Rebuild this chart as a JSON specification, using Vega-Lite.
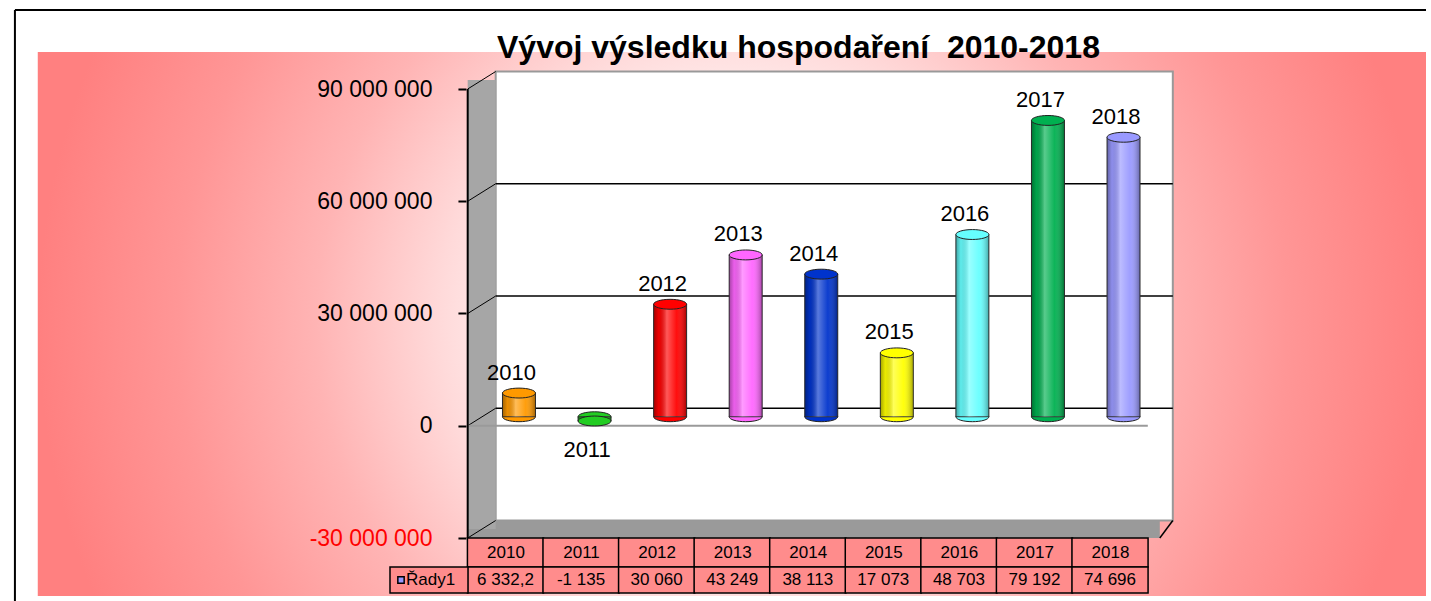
{
  "$schema": "https://vega.github.io/schema/vega-lite/v6.json",
  "width": 1431,
  "height": 601,
  "autosize": "none",
  "padding": 0,
  "background": "white",
  "config": {"view": {"stroke": null}, "font": "Liberation Sans"},
  "title": {"text": "Vývoj výsledku hospodaření \u00a02010-2018", "fontSize": 32, "fontWeight": "bold", "font": "Liberation Sans", "anchor": "start", "frame": "group", "dx": 497, "offset": -65, "color": "black"},
  "data": {"values": [
    {"rok": 2010, "hodnota": 6332200, "tab": "6 332,2"},
    {"rok": 2011, "hodnota": -1135000, "tab": "-1 135"},
    {"rok": 2012, "hodnota": 30060000, "tab": "30 060"},
    {"rok": 2013, "hodnota": 43249000, "tab": "43 249"},
    {"rok": 2014, "hodnota": 38113000, "tab": "38 113"},
    {"rok": 2015, "hodnota": 17073000, "tab": "17 073"},
    {"rok": 2016, "hodnota": 48703000, "tab": "48 703"},
    {"rok": 2017, "hodnota": 79192000, "tab": "79 192"},
    {"rok": 2018, "hodnota": 74696000, "tab": "74 696"}
  ]},
  "layer": [
    {
      "data": {"values": [{}]},
      "mark": {"type": "rect", "fill": {"gradient": "radial", "x1": 0.5, "y1": 0.5, "r1": 0, "x2": 0.5, "y2": 0.5, "r2": 0.5,
        "stops": [{"offset": 0, "color": "#ffffff"}, {"offset": 0.3, "color": "#fff0f0"}, {"offset": 0.42, "color": "#ffdada"}, {"offset": 0.6, "color": "#ffb4b4"}, {"offset": 0.8, "color": "#ff9696"}, {"offset": 1, "color": "#ff8080"}]}},
      "encoding": {
        "x": {"datum": 2003.81077, "type": "quantitative",
          "scale": {"domain": [2003.37714, 2022.18134], "nice": false, "zero": false},
          "axis": {"title": null, "orient": "bottom", "offset": -63, "zindex": 2, "values": [2010, 2011, 2012, 2013, 2014, 2015, 2016, 2017, 2018], "format": "d", "domain": false, "ticks": false, "tickSize": 0, "grid": false, "labelFontSize": 17, "labelFont": "Liberation Sans", "labelPadding": 6, "labelFlush": false, "labelOverlap": false, "labelColor": "black"}},
        "x2": {"datum": 2022.18134},
        "y": {"datum": 99888642, "type": "quantitative",
          "scale": {"domain": [-46837417, 113786191], "nice": false, "zero": false},
          "axis": {"title": null, "orient": "left", "offset": -465.95, "zindex": 2, "values": [-30000000, 0, 30000000, 60000000, 90000000], "domain": false, "grid": false, "ticks": true, "tickSize": 8, "tickWidth": 2, "tickColor": "black", "labelFontSize": 23, "labelFont": "Liberation Sans", "labelPadding": 26, "labelOverlap": false, "labelFlush": false, "labelBaseline": "middle",
            "labelColor": {"condition": {"test": "datum.value < 0", "value": "#ff0000"}, "value": "black"},
            "labelExpr": "replace(replace(format(datum.value, ','), regexp(',', 'g'), ' '), '−', '-')"}},
        "y2": {"datum": -45501114}
      }
    },
    {
      "data": {"values": [{}]},
      "mark": {"type": "rule", "color": "black", "strokeWidth": 2},
      "encoding": {"x": {"datum": 2003.50854}, "x2": {"datum": 2022.18134}, "y": {"datum": 111113586}}
    },
    {
      "data": {"values": [{}]},
      "mark": {"type": "rule", "color": "black", "strokeWidth": 2},
      "encoding": {"x": {"datum": 2003.50854}, "y": {"datum": 111113586}, "y2": {"datum": -46837417}}
    },
    {
      "data": {"values": [{}]},
      "mark": {"type": "rect", "fill": "white", "stroke": "#999999", "strokeWidth": 2, "xOffset": 28, "x2Offset": 25, "yOffset": -17.5, "y2Offset": -17.5},
      "encoding": {"x": {"datum": 2009.5}, "x2": {"datum": 2018.5}, "y": {"datum": 90000000}, "y2": {"datum": -30000000}}
    },
    {
      "data": {"values": [{}]},
      "mark": {"type": "rect", "fill": "#9a9a9a", "x2Offset": 12, "yOffset": -17.5},
      "encoding": {"x": {"datum": 2009.5}, "x2": {"datum": 2018.5}, "y": {"datum": -30000000}, "y2": {"datum": -30000000}}
    },
    {
      "data": {"values": [{}]},
      "mark": {"type": "rect", "fill": "#a6a6a6", "x2Offset": 28, "yOffset": -9, "y2Offset": -9},
      "encoding": {"x": {"datum": 2009.5}, "x2": {"datum": 2009.5}, "y": {"datum": 90000000}, "y2": {"datum": -30000000}}
    },
    {
      "data": {"values": [{}]},
      "mark": {"type": "rule", "color": "black", "strokeWidth": 1.5, "xOffset": 12, "x2Offset": 25, "y2Offset": -17.5},
      "encoding": {"x": {"datum": 2018.5}, "x2": {"datum": 2018.5}, "y": {"datum": -30000000}, "y2": {"datum": -30000000}}
    },
    {
      "data": {"values": [{"v": -30000000}, {"v": 0}, {"v": 30000000}, {"v": 60000000}, {"v": 90000000}]},
      "mark": {"type": "rule", "color": "black", "strokeWidth": 1, "x2Offset": 28, "y2Offset": -17.5},
      "encoding": {"x": {"datum": 2009.5}, "x2": {"datum": 2009.5}, "y": {"field": "v", "type": "quantitative"}, "y2": {"field": "v"}}
    },
    {
      "data": {"values": [{"v": 0}, {"v": 30000000}, {"v": 60000000}]},
      "mark": {"type": "rule", "color": "black", "strokeWidth": 1.5, "xOffset": 28, "x2Offset": 25, "yOffset": -17.5},
      "encoding": {"x": {"datum": 2009.5}, "x2": {"datum": 2018.5}, "y": {"field": "v", "type": "quantitative"}}
    },
    {
      "data": {"values": [{}]},
      "mark": {"type": "rule", "color": "#9a9a9a", "strokeWidth": 2},
      "encoding": {"x": {"datum": 2009.5}, "x2": {"datum": 2018.5}, "y": {"datum": 0}}
    },
    {
      "data": {"values": [{}]},
      "mark": {"type": "rule", "color": "black", "strokeWidth": 2},
      "encoding": {"x": {"datum": 2009.5}, "y": {"datum": 90000000}, "y2": {"datum": -30000000}}
    },
    {
      "mark": {"type": "point", "shape": "M -1 0 A 1 0.3 0 1 0 1 0 A 1 0.3 0 1 0 -1 0 Z", "size": 1089, "filled": true, "opacity": 1, "stroke": "#222222", "strokeWidth": 1, "xOffset": 13.5, "yOffset": -9},
      "encoding": {
        "x": {"field": "rok", "type": "quantitative"},
        "y": {"datum": 0},
        "color": {"field": "rok", "type": "nominal", "legend": null,
          "scale": {"domain": [2010, 2011, 2012, 2013, 2014, 2015, 2016, 2017, 2018], "range": ["#ff9900", "#22cc22", "#ff0000", "#ff66ff", "#0033cc", "#ffff00", "#66ffff", "#00b050", "#9999ff"]}}
      }
    },
    {
      "mark": {"type": "bar", "width": 33, "stroke": "#333333", "strokeWidth": 1, "xOffset": 13.5, "yOffset": -9, "y2Offset": -9},
      "encoding": {
        "x": {"field": "rok", "type": "quantitative"},
        "y": {"field": "hodnota", "type": "quantitative"},
        "y2": {"datum": 0},
        "color": {"field": "rok", "type": "nominal", "legend": null}
      }
    },
    {
      "mark": {"type": "bar", "width": 33, "xOffset": 13.5, "yOffset": -9, "y2Offset": -9,
        "fill": {"gradient": "linear", "x1": 0, "y1": 0, "x2": 1, "y2": 0, "stops": [
          {"offset": 0, "color": "rgba(0,0,0,0.35)"}, {"offset": 0.15, "color": "rgba(0,0,0,0.08)"}, {"offset": 0.4, "color": "rgba(255,255,255,0.35)"}, {"offset": 0.7, "color": "rgba(255,255,255,0.05)"}, {"offset": 1, "color": "rgba(0,0,0,0.35)"}]}},
      "encoding": {
        "x": {"field": "rok", "type": "quantitative"},
        "y": {"field": "hodnota", "type": "quantitative"},
        "y2": {"datum": 0}
      }
    },
    {
      "mark": {"type": "point", "shape": "M -1 0 A 1 0.3 0 1 0 1 0 A 1 0.3 0 1 0 -1 0 Z", "size": 1089, "filled": true, "opacity": 1, "stroke": "#222222", "strokeWidth": 1, "xOffset": 13.5, "yOffset": -9},
      "encoding": {
        "x": {"field": "rok", "type": "quantitative"},
        "y": {"field": "hodnota", "type": "quantitative"},
        "color": {"field": "rok", "type": "nominal", "legend": null}
      }
    },
    {
      "transform": [{"filter": "datum.hodnota >= 0"}],
      "mark": {"type": "text", "fontSize": 22, "dx": 6, "dy": -29.5, "baseline": "middle", "align": "center", "color": "black"},
      "encoding": {
        "x": {"field": "rok", "type": "quantitative"},
        "y": {"field": "hodnota", "type": "quantitative"},
        "text": {"field": "rok", "type": "nominal"}
      }
    },
    {
      "transform": [{"filter": "datum.hodnota < 0"}],
      "mark": {"type": "text", "fontSize": 22, "dx": 6, "dy": 20, "baseline": "middle", "align": "center", "color": "black"},
      "encoding": {
        "x": {"field": "rok", "type": "quantitative"},
        "y": {"field": "hodnota", "type": "quantitative"},
        "text": {"field": "rok", "type": "nominal"}
      }
    },
    {
      "mark": {"type": "bar", "width": 76.1, "fill": "#ff8c8c", "stroke": "black", "strokeWidth": 1.5},
      "encoding": {
        "x": {"field": "rok", "type": "quantitative"},
        "y": {"datum": -30000000},
        "y2": {"datum": -37750557}
      }
    },
    {
      "mark": {"type": "bar", "width": 76.1, "fill": "#ff8c8c", "stroke": "black", "strokeWidth": 1.5},
      "encoding": {
        "x": {"field": "rok", "type": "quantitative"},
        "y": {"datum": -37750557},
        "y2": {"datum": -44699332}
      }
    },
    {
      "data": {"values": [{}]},
      "mark": {"type": "bar", "width": 78, "fill": "#ff8c8c", "stroke": "black", "strokeWidth": 1.5},
      "encoding": {
        "x": {"datum": 2008.988},
        "y": {"datum": -37750557},
        "y2": {"datum": -44699332}
      }
    },
    {
      "mark": {"type": "text", "fontSize": 17, "baseline": "middle", "align": "center", "color": "black"},
      "encoding": {
        "x": {"field": "rok", "type": "quantitative"},
        "y": {"datum": -41224945},
        "text": {"field": "tab", "type": "nominal"}
      }
    },
    {
      "data": {"values": [{}]},
      "mark": {"type": "point", "shape": "square", "size": 40, "filled": true, "fill": "#9999ff", "stroke": "black", "strokeWidth": 1.5, "opacity": 1, "xOffset": -28},
      "encoding": {"x": {"datum": 2008.988}, "y": {"datum": -41224945}}
    },
    {
      "data": {"values": [{}]},
      "mark": {"type": "text", "fontSize": 17, "baseline": "middle", "align": "left", "dx": -23, "color": "black"},
      "encoding": {"x": {"datum": 2008.988}, "y": {"datum": -41224945}, "text": {"datum": "Řady1"}}
    }
  ]
}
